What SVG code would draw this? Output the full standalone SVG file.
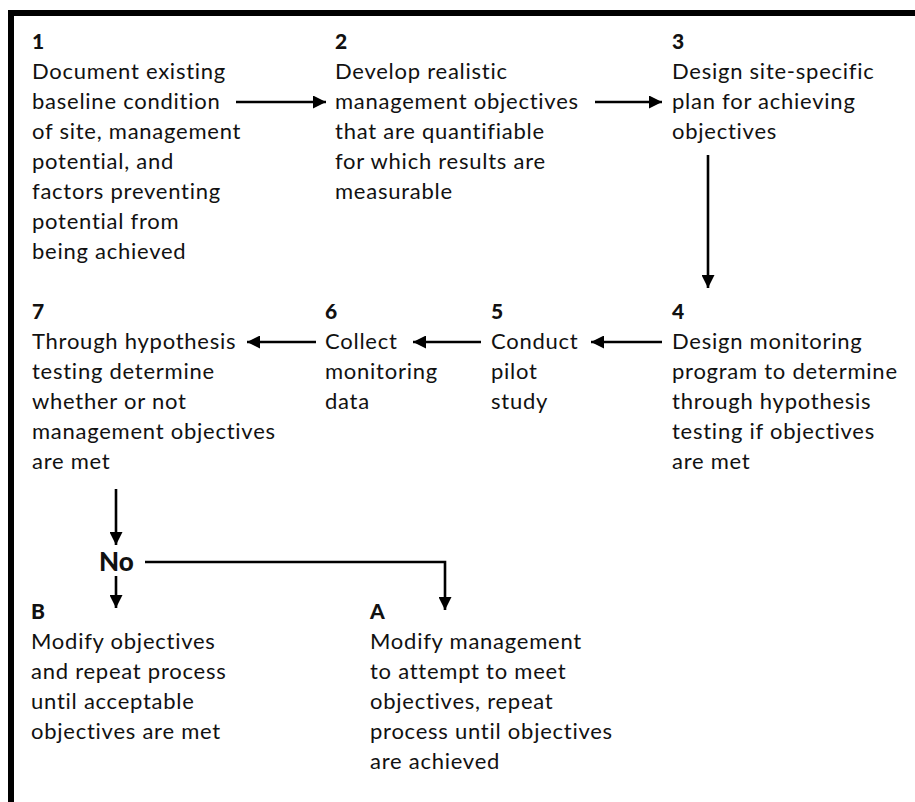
<svg xmlns="http://www.w3.org/2000/svg" width="915" height="802" viewBox="0 0 915 802">
<style>
text{font-family:Lato,"Open Sans","Liberation Sans",sans-serif;fill:#111;}
.t{font-size:22px;letter-spacing:0.75px;}
.n{font-size:21px;font-weight:900;}
.c{stroke:#000;stroke-width:2.6;fill:none;}
</style>
<defs>
<marker id="ah" viewBox="0 0 10 10" refX="10" refY="5" markerWidth="17" markerHeight="13" markerUnits="userSpaceOnUse" orient="auto">
<path d="M0,0 L10,5 L0,10 z" fill="#000"/>
</marker>
</defs>
<rect width="915" height="802" fill="#fff"/>
<path d="M11,802 V13 H915" stroke="#000" stroke-width="6" fill="none"/>
<g id="n1">
<text class="n" x="32" y="49">1</text>
<text class="t" x="32" y="79">Document existing</text>
<text class="t" x="32" y="109">baseline condition</text>
<text class="t" x="32" y="139">of site, management</text>
<text class="t" x="32" y="169">potential, and</text>
<text class="t" x="32" y="199">factors preventing</text>
<text class="t" x="32" y="229">potential from</text>
<text class="t" x="32" y="259">being achieved</text>
</g>
<g id="n2">
<text class="n" x="335" y="49">2</text>
<text class="t" x="335" y="79">Develop realistic</text>
<text class="t" x="335" y="109">management objectives</text>
<text class="t" x="335" y="139">that are quantifiable</text>
<text class="t" x="335" y="169">for which results are</text>
<text class="t" x="335" y="199">measurable</text>
</g>
<g id="n3">
<text class="n" x="672" y="49">3</text>
<text class="t" x="672" y="79">Design site-specific</text>
<text class="t" x="672" y="109">plan for achieving</text>
<text class="t" x="672" y="139">objectives</text>
</g>
<g id="n4">
<text class="n" x="672" y="319">4</text>
<text class="t" x="672" y="349">Design monitoring</text>
<text class="t" x="672" y="379">program to determine</text>
<text class="t" x="672" y="409">through hypothesis</text>
<text class="t" x="672" y="439">testing if objectives</text>
<text class="t" x="672" y="469">are met</text>
</g>
<g id="n5">
<text class="n" x="491" y="319">5</text>
<text class="t" x="491" y="349">Conduct</text>
<text class="t" x="491" y="379">pilot</text>
<text class="t" x="491" y="409">study</text>
</g>
<g id="n6">
<text class="n" x="325" y="319">6</text>
<text class="t" x="325" y="349">Collect</text>
<text class="t" x="325" y="379">monitoring</text>
<text class="t" x="325" y="409">data</text>
</g>
<g id="n7">
<text class="n" x="32" y="319">7</text>
<text class="t" x="32" y="349">Through hypothesis</text>
<text class="t" x="32" y="379">testing determine</text>
<text class="t" x="32" y="409">whether or not</text>
<text class="t" x="32" y="439">management objectives</text>
<text class="t" x="32" y="469">are met</text>
</g>
<g id="no">
<text class="n" x="99" y="571" style="font-size:26px">No</text>
</g>
<g id="nB">
<text class="n" x="31" y="619">B</text>
<text class="t" x="31" y="649">Modify objectives</text>
<text class="t" x="31" y="679">and repeat process</text>
<text class="t" x="31" y="709">until acceptable</text>
<text class="t" x="31" y="739">objectives are met</text>
</g>
<g id="nA">
<text class="n" x="370" y="619">A</text>
<text class="t" x="370" y="649">Modify management</text>
<text class="t" x="370" y="679">to attempt to meet</text>
<text class="t" x="370" y="709">objectives, repeat</text>
<text class="t" x="370" y="739">process until objectives</text>
<text class="t" x="370" y="769">are achieved</text>
</g>
<g id="connectors">
<path class="c" d="M236,102 H326" marker-end="url(#ah)"/>
<path class="c" d="M595,102 H662" marker-end="url(#ah)"/>
<path class="c" d="M708,155 V288" marker-end="url(#ah)"/>
<path class="c" d="M662,342 H591" marker-end="url(#ah)"/>
<path class="c" d="M481,342 H413" marker-end="url(#ah)"/>
<path class="c" d="M316,342 H247" marker-end="url(#ah)"/>
<path class="c" d="M116,489 V545" marker-end="url(#ah)"/>
<path class="c" d="M116,576 V608" marker-end="url(#ah)"/>
<path class="c" d="M145,562 H445 V610" marker-end="url(#ah)"/>
</g>
</svg>
